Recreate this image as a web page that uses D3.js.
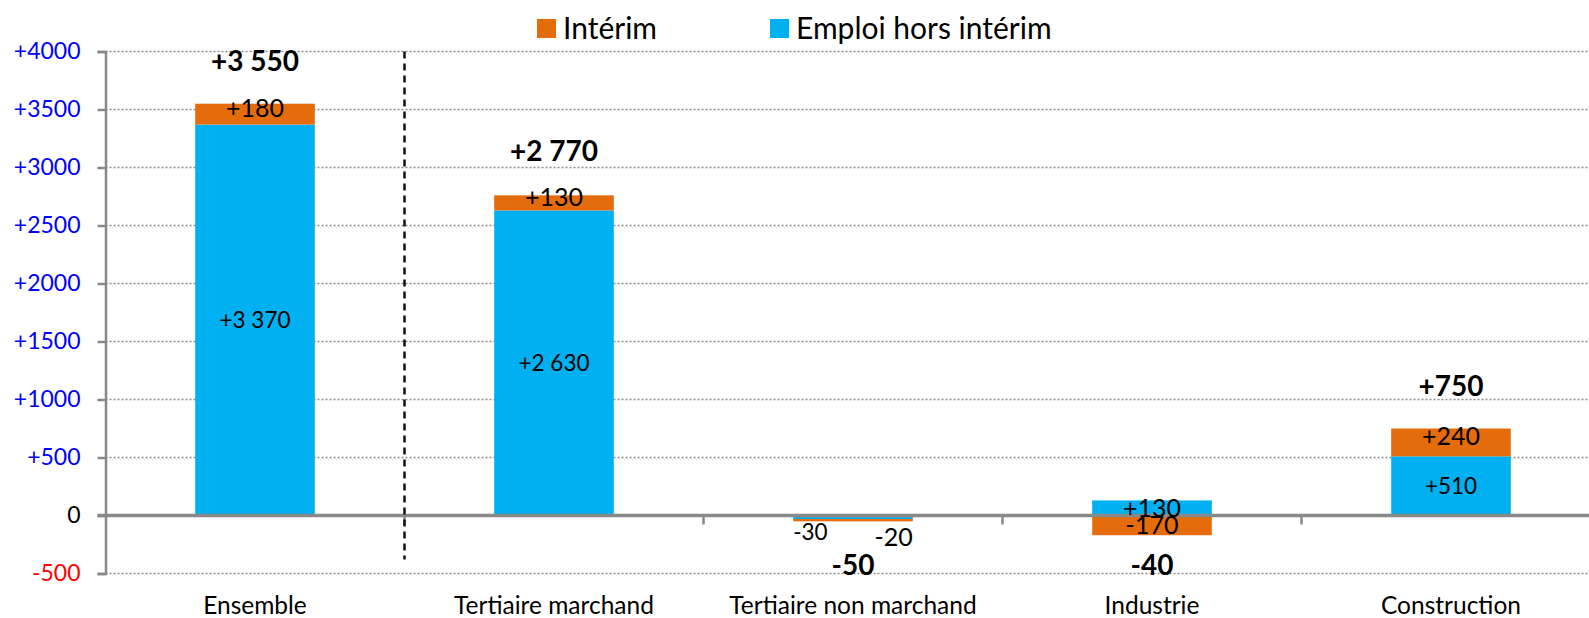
<!DOCTYPE html>
<html>
<head>
<meta charset="utf-8">
<script src="https://cdn.jsdelivr.net/npm/d3@7"></script>
<style>
  body { margin: 0; background: #fff; }
  svg { display: block; font-family: Lato, "Open Sans", sans-serif; }
</style>
</head>
<body>
<div id="chart"></div>
<script>
// data
var categories = ["Ensemble", "Tertiaire marchand", "Tertiaire non marchand", "Industrie", "Construction"];
var horsInterim = [3370, 2630, -30, 130, 510];
var interim = [180, 130, -20, -170, 240];
var totals = [3550, 2770, -50, -40, 750];
var yTicks = [-500, 0, 500, 1000, 1500, 2000, 2500, 3000, 3500, 4000];
var seriesNames = ["Emploi hors intérim", "Intérim"];

var width = 1589,
    height = 618,
    margin = {top: 51.5, left: 105.5, bottom: 44.5},
    innerWidth = 5 * 299,
    innerHeight = height - margin.top - margin.bottom;

var blue = "#00B0F0", orange = "#E46C0A", grey = "#898989";

var fr = d3.formatLocale({decimal: ",", thousands: " ", grouping: [3], currency: ["", " €"], minus: "-"});
var fmt = fr.format("+,d");

var rows = categories.map(function(c, i) {
  return {cat: c, hors: horsInterim[i], interim: interim[i], total: totals[i]};
});

var svg = d3.select("#chart").append("svg")
    .attr("width", width)
    .attr("height", height);

var g = svg.append("g")
    .attr("transform", "translate(" + margin.left + "," + margin.top + ")");

var x = d3.scaleBand().domain(categories).range([0, innerWidth]).paddingInner(0).paddingOuter(0);
var y = d3.scaleLinear().domain([-500, 4000]).range([innerHeight, 0]);
var barW = x.bandwidth() * 0.4;

// gridlines (dotted)
g.selectAll(".grid")
  .data(yTicks.filter(function(d) { return d !== 0; }))
  .enter().append("line")
    .attr("x1", 0).attr("x2", width)
    .attr("y1", function(d) { return y(d); })
    .attr("y2", function(d) { return y(d); })
    .attr("stroke", "#8c8c8c")
    .attr("stroke-width", 1.3)
    .attr("stroke-dasharray", "2,2");

// stacked bars
var stack = d3.stack().keys(["hors", "interim"]).offset(d3.stackOffsetDiverging);
var layers = stack(rows);
var colors = {hors: blue, interim: orange};

var layer = g.selectAll(".layer")
  .data(layers)
  .enter().append("g")
    .attr("fill", function(d) { return colors[d.key]; });

layer.selectAll("rect")
  .data(function(d) { return d; })
  .enter().append("rect")
    .attr("x", function(d) { return x(d.data.cat) + (x.bandwidth() - barW) / 2; })
    .attr("width", barW)
    .attr("y", function(d) { return y(d[1]); })
    .attr("height", function(d) { return y(d[0]) - y(d[1]); });

// y axis
var yAxis = g.append("g").call(d3.axisLeft(y).tickValues(yTicks).tickSize(8).tickFormat(function(d) {
  return d > 0 ? "+" + d : d3.format("d")(d).replace("−", "-");
}));
yAxis.select(".domain").attr("stroke", grey).attr("stroke-width", 2.5);
yAxis.selectAll(".tick line").attr("stroke", grey).attr("stroke-width", 2.5);
yAxis.selectAll(".tick text")
    .attr("x", -25)
    .attr("font-size", 23)
    .attr("font-family", "Lato, sans-serif")
    .attr("fill", function(d) { return d > 0 ? "#0000ff" : (d < 0 ? "#ff0000" : "#000"); });

// zero line with band ticks
g.append("line")
    .attr("x1", -8).attr("x2", width)
    .attr("y1", y(0)).attr("y2", y(0))
    .attr("stroke", grey).attr("stroke-width", 3.5);

g.selectAll(".xtick")
  .data(categories.slice(1))
  .enter().append("line")
    .attr("x1", function(d) { return x(d); })
    .attr("x2", function(d) { return x(d); })
    .attr("y1", y(0)).attr("y2", y(0) + 9)
    .attr("stroke", grey).attr("stroke-width", 2.5);

// separator after "Ensemble"
g.append("line")
    .attr("x1", x(categories[1])).attr("x2", x(categories[1]))
    .attr("y1", 0).attr("y2", y(-500) - 14)
    .attr("stroke", "#111").attr("stroke-width", 2.5)
    .attr("stroke-dasharray", "7,5");

// category labels
g.selectAll(".cat")
  .data(categories)
  .enter().append("text")
    .attr("x", function(d) { return x(d) + x.bandwidth() / 2; })
    .attr("y", innerHeight + 40)
    .attr("text-anchor", "middle")
    .attr("font-size", 24.5)
    .attr("fill", "#000")
    .text(function(d) { return d; });

// segment labels
layers.forEach(function(ly) {
  g.selectAll(".lab-" + ly.key)
    .data(ly)
    .enter().append("text")
      .attr("x", function(d) {
        var cx = x(d.data.cat) + x.bandwidth() / 2;
        var h = y(d[0]) - y(d[1]);
        if (h < 10) return ly.key === "hors" ? cx - barW / 2 : cx + barW / 2;
        return cx;
      })
      .attr("y", function(d) {
        var h = y(d[0]) - y(d[1]);
        if (h < 10) return y(0) + (ly.key === "hors" ? 24 : 30);
        var mid = (y(d[0]) + y(d[1])) / 2;
        return ly.key === "interim" && d.data.interim > 0 ? mid - 6 : mid;
      })
      .attr("dy", function(d) { return (y(d[0]) - y(d[1])) < 10 ? 0 : "0.36em"; })
      .attr("text-anchor", function(d) {
        var h = y(d[0]) - y(d[1]);
        if (h < 10) return ly.key === "hors" ? "start" : "end";
        return "middle";
      })
      .attr("font-size", function(d) {
        var v = d.data[ly.key];
        return ly.key === "interim" || (v > 0 && v < 200) ? 25 : 22.5;
      })
      .attr("fill", "#000")
      .text(function(d) { return fmt(d.data[ly.key]); });
});

// totals
g.selectAll(".total")
  .data(rows)
  .enter().append("text")
    .attr("x", function(d) { return x(d.cat) + x.bandwidth() / 2; })
    .attr("y", function(d) { return d.total >= 0 ? y(d.total) - 33 : y(0) + 59; })
    .attr("text-anchor", "middle")
    .attr("font-size", 28)
    .attr("font-weight", "bold")
    .attr("fill", "#000")
    .text(function(d) { return fmt(d.total); });

// legend
var legend = svg.append("g");
var legendItems = [
  {name: seriesNames[1], color: orange, x: 537},
  {name: seriesNames[0], color: blue, x: 770}
];
var li = legend.selectAll("g")
  .data(legendItems)
  .enter().append("g")
    .attr("transform", function(d) { return "translate(" + d.x + ",19)"; });
li.append("rect").attr("width", 19).attr("height", 19).attr("fill", function(d) { return d.color; });
li.append("text")
    .attr("x", 26).attr("y", 20)
    .attr("font-size", 30)
    .attr("fill", "#000")
    .text(function(d) { return d.name; });
</script>
</body>
</html>
